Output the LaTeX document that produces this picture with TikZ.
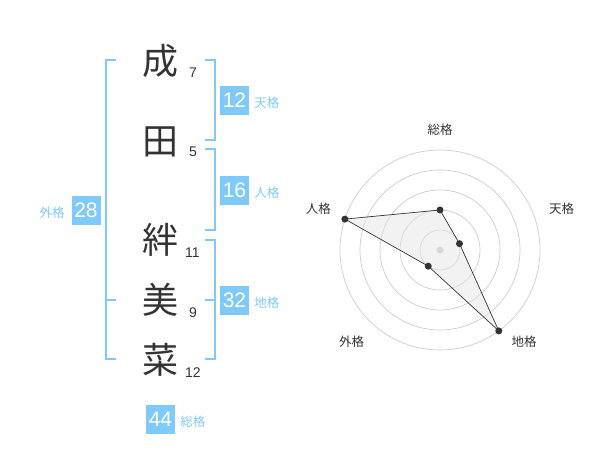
\documentclass[tikz,border=0pt]{standalone}
\usepackage{fontspec}
\setmainfont{Liberation Sans}
\newfontfamily\jpfont{Noto Sans CJK JP}
\usetikzlibrary{positioning}
\definecolor{kakublue}{RGB}{127,202,250}
\definecolor{ink}{RGB}{51,51,51}
\definecolor{ringgray}{RGB}{204,204,204}

\begin{document}
\begin{tikzpicture}[x = 1pt, y = -1pt,
    kanji/.style = {text = ink, font = \jpfont\fontsize{36}{36}\selectfont, inner sep = 0pt},
    strokes/.style = {text = ink, font = \fontsize{14}{14}\selectfont, inner sep = 0pt},
    kakubox/.style = {fill = kakublue, text = white, minimum size = 29pt, inner sep = 0pt, font = \fontsize{21}{21}\selectfont},
    kakulabel/.style = {text = kakublue, font = \jpfont\fontsize{12.5}{12.5}\selectfont, inner sep = 0pt},
    bracket/.style = {draw = kakublue, line width = 1.4pt},
    ring/.style = {draw = ringgray, line width = 0.7pt},
    axislabel/.style = {text = ink, font = \jpfont\fontsize{12.5}{12.5}\selectfont, inner sep = 0pt},
    dot/.style = {fill = ink}]
    \useasboundingbox (0, 0) rectangle (600, 470);
    % name characters and stroke counts
    \node [kanji] (c1) at (160, 61) {成};
    \node [kanji] (c2) at (160, 142) {田};
    \node [kanji] (c3) at (160, 240) {絆};
    \node [kanji] (c4) at (160, 300) {美};
    \node [kanji] (c5) at (160, 360) {菜};
    \node [strokes] (n1) at (193, 73) {7};
    \node [strokes] (n2) at (193, 152) {5};
    \node [strokes] (n3) at (192.5, 253) {11};
    \node [strokes] (n4) at (193, 313) {9};
    \node [strokes] (n5) at (193, 372.5) {12};
    % brackets
    \draw [bracket] (116, 60) -| (106, 359) -- (116, 359);
    \draw [bracket] (106, 300) -- (116, 300);
    \draw [bracket] (205, 60) -| (215, 140) -- (205, 140);
    \draw [bracket] (205, 149) -| (215, 230) -- (205, 230);
    \draw [bracket] (205, 240) -| (215, 359) -- (205, 359);
    \draw [bracket] (205, 300) -- (215, 300);
    % boxes
    \node [kakubox] (ten) at (234.5, 100.5) {12};
    \node [kakulabel, right = 5pt of ten, yshift = -2.5pt] {天格};
    \node [kakubox] (jin) at (234.5, 190.5) {16};
    \node [kakulabel, right = 5pt of jin, yshift = -2.5pt] {人格};
    \node [kakubox] (chi) at (234.5, 300.5) {32};
    \node [kakulabel, right = 5pt of chi, yshift = -2.5pt] {地格};
    \node [kakubox] (gai) at (86, 210.5) {28};
    \node [kakulabel, left = 6.5pt of gai, yshift = -2.5pt] {外格};
    \node [kakubox] (sou) at (160.5, 419.5) {44};
    \node [kakulabel, right = 5pt of sou, yshift = -2.5pt] {総格};
    % radar chart
    \begin{scope}[shift = {(440, 250)}, yscale = -1]
        \foreach \r in {20, 40, ..., 100}
            \draw [ring] (0, 0) circle (\r);
        \fill [ringgray] (0, 0) circle (3.5);
        \coordinate (psou) at (90:40);
        \coordinate (pten) at (18:20.5);
        \coordinate (pchi) at (306:100);
        \coordinate (pgai) at (234:20);
        \coordinate (pjin) at (162:100);
        \draw [ink, line width = 0.7pt, fill = black!10, fill opacity = 0.5] (psou) -- (pten) -- (pchi) -- (pgai) -- (pjin) -- cycle;
        \foreach \p in {psou, pten, pchi, pgai, pjin}
            \fill [dot] (\p) circle (3.5);
        \node [axislabel] (lsou) at (0, 120) {総格};
        \node [axislabel] (lten) at (121.7, 41.7) {天格};
        \node [axislabel] (ljin) at (-121.7, 41.7) {人格};
        \node [axislabel] (lgai) at (-88.3, -91.7) {外格};
        \node [axislabel] (lchi) at (84, -91.7) {地格};
    \end{scope}
\end{tikzpicture}
\end{document}
